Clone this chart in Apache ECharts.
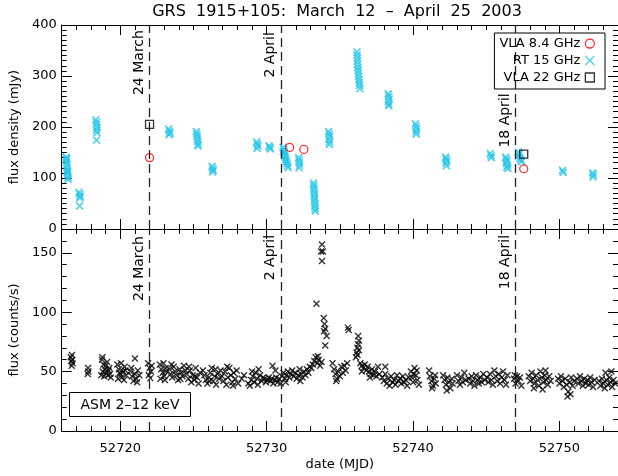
<!DOCTYPE html>
<html>
<head>
<meta charset="utf-8">
<title>GRS 1915+105</title>
<script src="https://cdn.jsdelivr.net/npm/echarts@6/dist/echarts.min.js"></script>
<style>
  html, body { margin: 0; padding: 0; background: #fff; }
  #chart { width: 618px; height: 476px; }
</style>
</head>
<body>
<div id="chart"></div>
<script>
// ===== data (MJD, value) =====
const titleText = "GRS  1915+105:  March  12  –  April  25  2003";

const xMin = 52716, xMax = 52754;
const xMajor = [52720, 52730, 52740, 52750];

const dateLines = [52722, 52731, 52747];
const dateNames = ["24 March", "2 April", "18 April"];

// VLA 8.4 GHz (mJy)
const vla84 = [[52722.0, 140], [52731.57, 160], [52732.54, 156], [52747.56, 118]];
// VLA 22 GHz (mJy)
const vla22 = [[52722.0, 205], [52747.56, 147]];
// RT 15 GHz (mJy)
const rt15 = [
  [52716.30,141],[52716.32,136],[52716.33,131],[52716.35,126],[52716.36,121],[52716.38,116],
  [52716.39,111],[52716.41,106],[52716.43,101],[52716.44,97],[52716.34,138],[52716.40,113],
  [52717.17,72],[52717.22,68],[52717.27,64],[52717.24,61],[52717.22,45],
  [52718.33,214],[52718.37,209],[52718.40,204],[52718.42,199],[52718.38,194],[52718.41,189],[52718.38,174],
  [52723.30,196],[52723.36,192],[52723.40,188],[52723.33,185],
  [52725.20,191],[52725.23,186],[52725.26,181],[52725.28,176],[52725.30,171],[52725.32,166],[52725.30,163],
  [52726.27,123],[52726.31,119],[52726.35,115],[52726.31,112],
  [52729.31,171],[52729.36,167],[52729.40,163],[52729.35,158],
  [52730.16,163],[52730.21,160],[52730.25,157],
  [52731.12,160],[52731.16,156],[52731.14,152],[52731.20,148],[52731.24,144],[52731.27,140],
  [52731.31,136],[52731.35,132],[52731.39,128],[52731.43,124],[52731.47,120],[52731.22,151],
  [52732.18,140],[52732.21,135],[52732.23,130],[52732.25,125],[52732.22,120],
  [52733.20,90],[52733.22,85],[52733.24,80],[52733.23,75],[52733.26,70],[52733.25,65],
  [52733.28,60],[52733.27,55],[52733.30,50],[52733.29,45],[52733.31,40],[52733.32,35],
  [52734.23,191],[52734.27,186],[52734.30,181],[52734.26,176],[52734.29,171],[52734.28,166],
  [52736.17,347],[52736.18,341],[52736.20,335],[52736.19,329],[52736.22,323],[52736.23,317],
  [52736.25,311],[52736.27,305],[52736.28,299],[52736.31,293],[52736.33,287],[52736.35,281],[52736.37,275],
  [52738.30,265],[52738.34,260],[52738.37,255],[52738.32,250],[52738.35,245],[52738.33,242],
  [52740.17,206],[52740.21,201],[52740.24,196],[52740.20,191],[52740.22,186],
  [52742.22,141],[52742.26,137],[52742.30,133],[52742.25,129],[52742.28,124],
  [52745.27,148],[52745.32,144],[52745.35,140],
  [52746.32,141],[52746.37,137],[52746.42,133],[52746.36,129],[52746.45,125],[52746.40,121],[52746.48,119],
  [52747.20,151],[52747.25,147],[52747.22,143],[52747.30,139],[52747.36,135],[52747.42,132],
  [52750.21,115],[52750.26,111],
  [52752.27,110],[52752.31,106],[52752.29,102]
];
// ASM 2-12 keV (counts/s)
const asm = [
  [52716.62,62],[52716.70,64],[52716.66,59],[52716.74,57],[52716.68,55],[52716.72,60],
  [52717.80,53],[52717.82,50],[52717.78,48],
  [52718.75,60],[52718.85,56],[52718.95,52],[52719.05,49],[52719.15,47],[52719.25,53],[52718.80,50],
  [52718.90,46],[52719.00,55],[52719.10,58],[52719.20,51],[52719.30,48],[52719.35,45],[52718.70,47],[52718.78,62],
  [52719.80,56],[52719.90,52],[52720.00,48],[52720.10,45],[52720.20,50],[52720.30,54],[52720.40,47],
  [52719.85,44],[52720.05,57],[52720.25,43],[52719.95,49],[52720.35,51],
  [52721.00,61],[52720.70,50],[52720.80,46],[52720.90,42],[52721.00,48],[52721.10,44],[52721.20,51],
  [52721.30,47],[52720.75,53],[52721.15,41],
  [52721.90,57],[52722.00,53],[52722.10,50],[52721.95,47],[52722.05,44.5],[52722.15,55],
  [52722.70,56],[52722.80,52],[52722.90,49],[52723.00,46],[52723.10,53],[52722.75,44],[52722.95,57],
  [52723.15,50],[52723.05,43],
  [52723.35,52],[52723.45,48],[52723.55,45],[52723.65,54],[52723.75,50],[52723.85,47],[52723.95,43],
  [52724.05,52],[52724.15,49],[52724.25,46],[52724.35,55],[52724.45,51],[52723.50,56],[52724.10,44],
  [52724.55,48],[52724.65,44],[52724.75,51],[52724.85,41],[52724.95,47],[52725.05,43],[52725.15,53],
  [52725.25,45],[52725.35,40],[52725.45,49],[52724.70,54],[52725.10,46],
  [52725.65,51],[52725.75,47],[52725.85,43],[52725.95,40],[52726.05,45],[52726.15,49],[52726.25,53],
  [52726.35,42],[52726.45,46],[52726.55,39],[52726.65,48],[52726.75,44],[52726.85,51],[52726.10,42],[52726.50,52],
  [52726.95,46],[52727.05,42],[52727.15,50],[52727.25,39],[52727.35,45],[52727.45,53],[52727.55,47],
  [52727.65,41],[52727.75,49],[52727.85,44],[52727.95,51],[52728.05,40],[52727.30,54],[52727.70,38],
  [52728.30,44],[52728.45,47],
  [52728.75,40],[52728.85,38],[52728.95,43],[52729.05,46],[52729.15,41],[52729.25,49],[52729.35,44],
  [52729.45,52],[52729.55,47],[52729.65,42],[52729.75,45],[52729.00,50],[52729.40,39],
  [52729.85,44],[52729.95,41],[52730.05,43],[52730.15,45],[52730.25,42],[52730.35,44],[52730.45,40],
  [52730.55,43],[52730.65,45],[52730.75,41],[52730.85,44],[52730.95,40],[52730.40,55],[52730.60,51],
  [52731.05,46],[52731.15,49],[52731.25,44],[52731.35,47],[52731.45,50],[52731.55,45],[52731.65,48],
  [52731.75,51],[52731.85,46],[52731.95,49],[52732.05,44],[52732.15,47],[52732.25,52],[52732.35,48],
  [52732.45,45],[52732.55,50],[52732.65,47],[52732.75,52],[52732.85,49],[52732.95,54],[52731.30,41],[52732.30,42],
  [52733.05,53],[52733.15,56],[52733.25,59],[52733.35,62],[52733.45,57],[52733.55,60],[52733.65,55],
  [52733.75,58],[52733.50,63],
  [52733.40,107],
  [52733.78,157],[52733.72,151],[52733.84,151],[52733.78,143],
  [52733.90,95],[52733.95,90],[52734.00,86],[52733.92,84],[52734.10,80],[52734.00,72],
  [52734.50,57],[52734.60,52],[52734.70,48],[52734.80,44],[52734.90,50],[52735.00,46],[52735.10,54],
  [52735.20,49],[52735.30,55],[52735.40,51],[52735.50,57],[52734.75,42],
  [52735.55,87],[52735.60,85],
  [52736.10,62],[52736.15,66],[52736.20,70],[52736.25,73],[52736.30,76],[52736.25,80],[52736.20,64],[52736.30,68],
  [52736.40,57],[52736.50,55],[52736.60,53],[52736.70,56],[52736.80,51],[52736.90,54],[52737.00,50],
  [52737.10,48],[52737.20,52],[52737.30,47],[52737.40,50],[52737.50,46],[52737.60,54],[52737.70,48],
  [52736.50,50],[52737.05,45],
  [52737.90,45],[52738.00,42],[52738.10,48],[52738.20,40],[52738.30,44],[52738.40,38],[52738.50,46],
  [52738.60,41],[52738.70,43],[52738.80,39],[52738.90,47],[52739.00,42],[52739.10,44],[52739.20,40],
  [52739.30,46],[52739.40,41],[52739.50,43],[52739.60,38],[52739.70,45],[52738.10,54],
  [52739.85,50],[52739.90,45],[52740.00,41],[52740.10,53],[52740.20,47],[52740.30,43],[52740.40,39],
  [52740.05,48],[52740.25,51],
  [52741.10,51],[52741.15,46],[52741.25,42],[52741.35,38],[52741.45,44],[52741.55,40],[52741.30,36],[52741.50,47],
  [52742.05,47],[52742.15,43],[52742.25,39],[52742.35,45],[52742.45,41],[52742.55,36],[52742.65,44],
  [52742.30,34],[52742.70,40],
  [52743.00,47],[52743.10,42],[52743.20,39],[52743.30,45],[52743.40,41],[52743.50,49],[52743.60,43],
  [52743.80,44],[52743.90,40],[52744.00,46],[52744.10,42],[52744.20,38],[52744.30,47],[52744.40,43],
  [52744.50,40],[52744.60,45],[52744.70,41],[52744.80,48],[52744.90,43],
  [52745.05,45],[52745.15,41],[52745.25,48],[52745.35,43],[52745.45,39],[52745.55,51],[52745.65,46],
  [52745.75,42],[52745.85,48],[52745.95,40],[52746.05,45],[52746.15,50],[52746.25,43],[52746.35,39],[52746.45,47],
  [52746.90,44],[52747.00,40],[52747.10,46],[52747.20,42],[52747.30,45],[52747.40,38],[52746.95,47],
  [52747.90,46],[52748.00,42],[52748.10,49],[52748.20,44],[52748.30,40],[52748.40,47],[52748.50,43],
  [52748.60,38],[52748.70,50],[52748.80,45],[52748.90,41],[52749.00,47],[52749.10,43],[52749.20,39],
  [52749.30,46],[52749.40,42],[52748.25,36],[52748.85,35],[52749.05,51],
  [52749.90,44],[52750.00,40],[52750.10,46],[52750.20,42],[52750.30,37],[52750.40,44],[52750.50,39],
  [52750.60,33],[52750.70,41],[52750.80,45],[52750.90,38],[52751.00,42],[52750.55,29],[52750.75,31],
  [52751.20,44],[52751.30,40],[52751.40,46],[52751.50,42],[52751.60,38],[52751.70,44],[52751.80,40],
  [52751.90,43],[52752.00,39],[52752.10,45],[52752.20,41],[52752.30,37],[52752.40,43],
  [52752.70,42],[52752.80,38],[52752.90,44],[52753.00,40],[52753.10,36],[52753.20,43],[52753.30,39],
  [52753.40,45],[52753.50,41],[52753.60,37],[52753.70,43],[52753.80,40],[52753.15,49],[52753.55,50]
];

// ===== style =====
const FONT = "DejaVu Sans";
const CYAN = "#22c6e8";
const xShape = "path://M0,0L10,10M10,0L0,10";

function txt() {
    return { fontFamily: FONT, fontSize: 13, color: "#000" };
}

// x: one axis with the 10-day ticks + labels, one with the day ticks
function xAxisOf(grid, pos, major, labels, name) {
    const ax = {
        type: "value", gridIndex: grid, position: pos, min: xMin, max: xMax,
        name: name || "", nameLocation: "middle", nameGap: 27, nameTextStyle: txt(),
        axisLine: { show: major, onZero: false, lineStyle: { color: "#000", width: 1 } },
        axisTick: { show: true, inside: true, length: major ? 10 : 5, lineStyle: { color: "#000", width: 1 } },
        axisLabel: Object.assign({ show: labels, margin: 11 }, txt()),
        splitLine: { show: false }
    };
    if (major) {
        ax.axisTick.customValues = xMajor;
        ax.axisLabel.customValues = xMajor;
        ax.axisLabel.formatter = v => String(v);
    } else {
        ax.interval = 1;
    }
    return ax;
}

function yAxisOf(grid, pos, major, hi, step, labels, name) {
    return {
        type: "value", gridIndex: grid, position: pos, min: 0, max: hi, interval: step,
        name: name || "", nameLocation: "middle", nameGap: 38, nameTextStyle: txt(),
        axisLine: { show: major, onZero: false, lineStyle: { color: "#000", width: 1 } },
        axisTick: { show: true, inside: true, length: major ? 10 : 5, lineStyle: { color: "#000", width: 1 } },
        axisLabel: Object.assign({ show: labels, margin: 5, showMaxLabel: hi % step === 0 }, txt()),
        splitLine: { show: false }
    };
}

function dashLine() {
    return {
        silent: true,
        symbol: ["none", "none"],
        label: { show: false },
        lineStyle: { color: "#222", width: 1.3, type: [9, 5] },
        data: dateLines.map(d => ({ xAxis: d }))
    };
}

const chart = echarts.init(document.getElementById("chart"));

chart.setOption({
    animation: false,
    title: {
        text: titleText, left: 337, top: 4, textAlign: "center", padding: 0,
        textStyle: { fontFamily: FONT, fontSize: 16, fontWeight: "normal", color: "#000" }
    },
    legend: {
        orient: "vertical", align: "right", right: 13, top: 33,
        padding: [3, 10, 4, 5], itemGap: 2, itemWidth: 9, itemHeight: 9,
        borderColor: "#000", borderWidth: 1, borderRadius: 0, backgroundColor: "#fff",
        itemStyle: { borderWidth: 1.3 },
        textStyle: Object.assign({ lineHeight: 15 }, txt()),
        data: ["VLA 8.4 GHz", "RT 15 GHz", "VLA 22 GHz"]
    },
    grid: [
        { left: 60, top: 25, width: 559, height: 204 },
        { left: 60, top: 229, width: 559, height: 202 }
    ],
    xAxis: [
        xAxisOf(0, "bottom", true, false), xAxisOf(0, "bottom", false, false),
        xAxisOf(0, "top", true, false), xAxisOf(0, "top", false, false),
        xAxisOf(1, "bottom", true, true, "date (MJD)"), xAxisOf(1, "bottom", false, false),
        xAxisOf(1, "top", true, false), xAxisOf(1, "top", false, false)
    ],
    yAxis: [
        yAxisOf(0, "left", true, 400, 100, true, "flux density (mJy)"),
        yAxisOf(0, "left", false, 400, 10, false),
        yAxisOf(0, "right", true, 400, 100, false),
        yAxisOf(0, "right", false, 400, 10, false),
        yAxisOf(1, "left", true, 170, 50, true, "flux (counts/s)"),
        yAxisOf(1, "left", false, 170, 10, false),
        yAxisOf(1, "right", true, 170, 50, false),
        yAxisOf(1, "right", false, 170, 10, false)
    ],
    series: [
        {
            name: "RT 15 GHz", type: "scatter", xAxisIndex: 0, yAxisIndex: 0,
            symbol: xShape, symbolSize: 7, data: rt15,
            itemStyle: { color: CYAN, borderColor: CYAN, borderWidth: 1.6 },
            markLine: dashLine(), z: 2
        },
        {
            name: "VLA 8.4 GHz", type: "scatter", xAxisIndex: 0, yAxisIndex: 0,
            symbol: "circle", symbolSize: 8, data: vla84,
            itemStyle: { color: "rgba(0,0,0,0)", borderColor: "#ff0000", borderWidth: 1.3 }, z: 3
        },
        {
            name: "VLA 22 GHz", type: "scatter", xAxisIndex: 0, yAxisIndex: 0,
            symbol: "rect", symbolSize: 8, data: vla22,
            itemStyle: { color: "rgba(0,0,0,0)", borderColor: "#000", borderWidth: 1.3 }, z: 3
        },
        {
            name: "ASM 2-12 keV", type: "scatter", xAxisIndex: 4, yAxisIndex: 4,
            symbol: xShape, symbolSize: 6, data: asm,
            itemStyle: { color: "#000", borderColor: "#000", borderWidth: 1.4 },
            markLine: dashLine(), z: 2
        }
    ]
});

// ===== date labels next to the dashed lines + ASM box =====
const graphics = [];
const labelTops = [
    [chart.convertToPixel({ yAxisIndex: 0 }, 390), chart.convertToPixel({ yAxisIndex: 0 }, 386), chart.convertToPixel({ yAxisIndex: 0 }, 266)],
    [chart.convertToPixel({ yAxisIndex: 4 }, 164), chart.convertToPixel({ yAxisIndex: 4 }, 165), chart.convertToPixel({ yAxisIndex: 4 }, 165)]
];
dateLines.forEach((d, i) => {
    const px = chart.convertToPixel({ xAxisIndex: 0 }, d);
    [0, 1].forEach(p => {
        graphics.push({
            type: "text", x: px - 10.5, y: labelTops[p][i], rotation: Math.PI / 2, z: 10,
            style: { text: dateNames[i], fontFamily: FONT, fontSize: 14, fill: "#000",
                     align: "right", verticalAlign: "middle" }
        });
    });
});
graphics.push({
    type: "rect", shape: { x: 69.5, y: 392.5, width: 121, height: 24 }, z: 10,
    style: { fill: "#fff", stroke: "#000", lineWidth: 1 }
});
graphics.push({
    type: "text", x: 130, y: 405, z: 11,
    style: { text: "ASM 2–12 keV", fontFamily: FONT, fontSize: 14, fill: "#000",
             align: "center", verticalAlign: "middle" }
});
chart.setOption({ graphic: graphics });
</script>
</body>
</html>
